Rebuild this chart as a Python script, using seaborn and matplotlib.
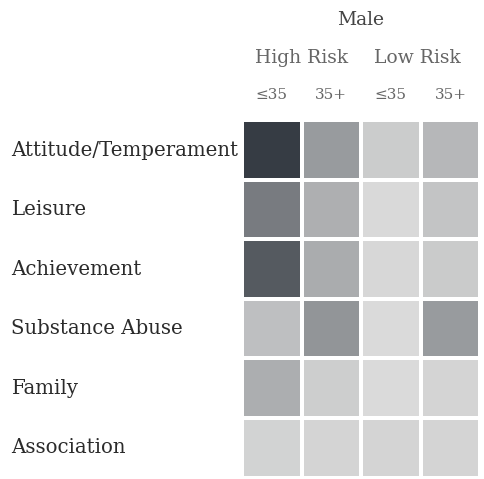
import numpy as np
import pandas as pd
import matplotlib
matplotlib.use("Agg")
import matplotlib.pyplot as plt
import seaborn as sns
from matplotlib.colors import LinearSegmentedColormap

# data (relative shading, 0 = lightest, 1 = darkest)
factors = ["Attitude/Temperament", "Leisure", "Achievement",
           "Substance Abuse", "Family", "Association"]
groups = ["≤35", "35+", "≤35", "35+"]
high_young = [1.00, 0.60, 0.81, 0.17, 0.28, 0.05]
high_old = [0.40, 0.27, 0.29, 0.44, 0.08, 0.04]
low_young = [0.09, 0.01, 0.02, 0.00, 0.00, 0.04]
low_old = [0.22, 0.14, 0.10, 0.40, 0.04, 0.04]

df = pd.DataFrame(np.column_stack([high_young, high_old, low_young, low_old]),
                  index=factors, columns=["HR_young", "HR_old", "LR_young", "LR_old"])

cmap = LinearSegmentedColormap.from_list("grey", ["#dadada", "#363c44"])

fig = plt.figure(figsize=(4.85, 4.79), dpi=100)
ax = fig.add_axes([0.499, 0.003, 0.491, 0.746])
sns.heatmap(df, ax=ax, cmap=cmap, vmin=0, vmax=1, cbar=False,
            linewidths=1.5, linecolor="white", square=False)

serif = ["DejaVu Serif"]
ax.xaxis.tick_top()
ax.set_xticklabels(groups, fontsize=11, color="#666666", family=serif)
ax.set_yticklabels(factors, rotation=0, fontsize=14.2, color="#2b2b2b",
                   family=serif, ha="left")
ax.tick_params(axis="x", length=0, pad=13)
ax.tick_params(axis="y", length=0, pad=166)
ax.set_xlabel("")
ax.set_ylabel("")

ax.text(1.0, -1.05, "High Risk", ha="center", va="center", fontsize=13.5,
        color="#666666", family=serif)
ax.text(2.95, -1.05, "Low Risk", ha="center", va="center", fontsize=13.5,
        color="#666666", family=serif)
ax.text(2.0, -1.68, "Male", ha="center", va="center", fontsize=13.5,
        color="#444444", family=serif)

fig.savefig("out.png", dpi=100)
